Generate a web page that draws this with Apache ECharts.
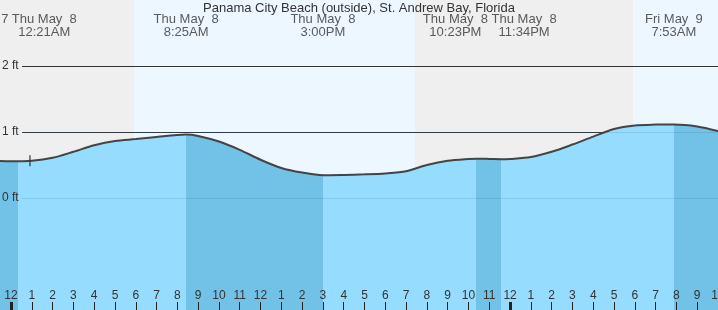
<!DOCTYPE html>
<html><head><meta charset="utf-8">
<script src="https://cdn.jsdelivr.net/npm/echarts@6/dist/echarts.min.js"></script>
<style>html,body{margin:0;padding:0;background:#fff}#c{width:718px;height:310px}</style>
</head><body><div id="c"></div>
<script>
// ---- data (hours since Thu May 8 00:00, feet) ----
const chartTitle = 'Panama City Beach (outside), St. Andrew Bay, Florida';
const tideHours = [-0.53, 0, 1, 2, 3, 4, 5, 6, 7, 8, 8.42, 9, 10, 11, 12, 13, 14, 15, 16, 17, 18, 19, 20, 21, 22, 22.38, 23, 23.57, 24, 25, 26, 27, 28, 29, 30, 31, 31.88, 33, 34];
const tideFeet  = [0.56, 0.556, 0.565, 0.61, 0.70, 0.80, 0.865, 0.893, 0.925, 0.955, 0.962, 0.94, 0.855, 0.73, 0.58, 0.455, 0.385, 0.345, 0.35, 0.358, 0.372, 0.405, 0.50, 0.565, 0.592, 0.595, 0.592, 0.588, 0.592, 0.62, 0.70, 0.81, 0.93, 1.045, 1.098, 1.112, 1.115, 1.085, 1.015];
const eventHours  = [0.35, 8.42, 15.0, 22.38, 23.57, 31.88];
const eventLabels = ['Thu May  8\n12:21AM', 'Thu May  8\n8:25AM', 'Thu May  8\n3:00PM', 'Thu May  8\n10:23PM', 'Thu May  8\n11:34PM', 'Fri May  9\n7:53AM'];
const prevDayLabel = 'Wed May  7';
const sunriseHours = [5.92, 29.92];
const sunsetHours  = [19.43];
const nowHour = 0.91;
const hourTicks = Array.from({length: 35}, (_, i) => i);
const footTicks = [0, 1, 2];
const xMin = -0.53, xMax = 34.0, yMin = -1.697, yMax = 3.0;

// ---- styles ----
const labelShift = [26, 0, 0, -21, 23, 0];
const C = {night: '#efefef', day: '#edf7ff', water: '#96dcfe', waterDark: '#72c1e6', text: '#333'};
const FONT = 'Liberation Sans, Arial, sans-serif';

const tide = tideHours.map((h, i) => [h, tideFeet[i]]);
const nowFt = (() => { for (let i = 1; i < tideHours.length; i++) if (tideHours[i] >= nowHour) { const t = (nowHour - tideHours[i-1])/(tideHours[i]-tideHours[i-1]); return tideFeet[i-1] + t*(tideFeet[i]-tideFeet[i-1]); } })();

const bands = [];
const edges = [xMin, sunriseHours[0], sunsetHours[0], sunriseHours[1], xMax];
for (let i = 0; i < 4; i++) bands.push([{xAxis: edges[i], itemStyle: {color: i % 2 === 0 ? C.night : C.day}}, {xAxis: edges[i+1]}]);

const fallStarts = [xMin, eventHours[1], eventHours[3], eventHours[5]];
const fallEnds   = [eventHours[0], eventHours[2], eventHours[4], xMax];
const pieces = [];
let cur = xMin - 1;
for (let i = 0; i < fallStarts.length; i++) {
  if (fallStarts[i] > cur) pieces.push({gte: cur, lt: fallStarts[i], color: C.water});
  pieces.push({gte: fallStarts[i], lt: fallEnds[i], color: C.waterDark});
  cur = fallEnds[i];
}
pieces.push({gte: cur, lt: xMax + 10, color: C.water});

const gridLineStart = 0.53;
const chart = echarts.init(document.getElementById('c'));
chart.setOption({
  animation: false,
  title: {text: chartTitle, left: 'center', top: -3, textStyle: {fontFamily: FONT, fontSize: 13, fontWeight: 'normal', color: C.text}},
  grid: {left: 0, right: 0, top: 0, bottom: 0, containLabel: false, outerBoundsMode: 'none'},
  xAxis: [{
    type: 'value', min: xMin, max: xMax, position: 'bottom', z: 10,
    axisLine: {show: false, onZero: false}, splitLine: {show: false},
    axisTick: {show: true, inside: true, length: 8, lineStyle: {color: '#222', width: 1}, customValues: hourTicks.filter(h => h % 24 !== 0)},
    axisLabel: {show: true, inside: true, margin: 8, fontFamily: FONT, fontSize: 12, color: C.text, customValues: hourTicks, hideOverlap: false, formatter: v => String(v % 12 === 0 ? 12 : v % 12)}
  }, {
    type: 'value', min: xMin, max: xMax, position: 'bottom', z: 10,
    axisLine: {show: false, onZero: false}, splitLine: {show: false}, axisLabel: {show: false},
    axisTick: {show: true, inside: true, length: 8, lineStyle: {color: '#222', width: 3}, customValues: hourTicks.filter(h => h % 24 === 0)}
  }],
  yAxis: {
    type: 'value', min: yMin, max: yMax, z: 10,
    axisLine: {show: false, onZero: false}, axisTick: {show: false}, splitLine: {show: false},
    axisLabel: {show: true, inside: true, margin: 2, fontFamily: FONT, fontSize: 12, color: C.text, customValues: footTicks, formatter: v => v + ' ft'}
  },
  visualMap: {type: 'piecewise', show: false, dimension: 0, seriesIndex: 0, pieces: pieces},
  series: [{
    name: 'water', type: 'line', data: tide, smooth: 0.3, showSymbol: false, z: 2,
    lineStyle: {width: 0}, areaStyle: {opacity: 1, origin: 'start'},
    markArea: {silent: true, z: 0.5, data: bands},
    markLine: {silent: true, symbol: 'none', z: 1, label: {show: false},
      lineStyle: {color: '#333', width: 1, type: 'solid'},
      data: footTicks.filter(f => f > 0).map(f => [{coord: [gridLineStart, f]}, {coord: [xMax, f]}])}
  }, {
    name: 'curve', type: 'line', data: tide, smooth: 0.3, showSymbol: false, z: 4,
    lineStyle: {color: '#444', width: 2},
    markLine: {silent: true, symbol: 'none', z: 3, label: {show: false},
      lineStyle: {color: 'rgba(40,110,160,0.18)', width: 1, type: 'solid'},
      data: footTicks.filter(f => f < 2).map(f => [{coord: [gridLineStart, f]}, {coord: [xMax, f]}])}
  }, {
    name: 'now', type: 'scatter', z: 5, symbol: 'rect', symbolSize: [1.5, 11], itemStyle: {color: '#333'},
    data: [[nowHour, nowFt]]
  }, {
    name: 'events', type: 'scatter', z: 6, symbolSize: 0, clip: false,
    data: eventHours.map((h, i) => ({value: [h, yMax], label: {offset: [labelShift[i], 0]}, lab: eventLabels[i]})).concat([{value: [xMin, yMax], lab: prevDayLabel, label: {offset: [-26, 0]}}]),
    label: {show: true, position: 'bottom', distance: 13, align: 'center', fontFamily: FONT, fontSize: 13, lineHeight: 13, color: C.text,
      formatter: p => p.data.lab}
  }]
});
</script></body></html>
